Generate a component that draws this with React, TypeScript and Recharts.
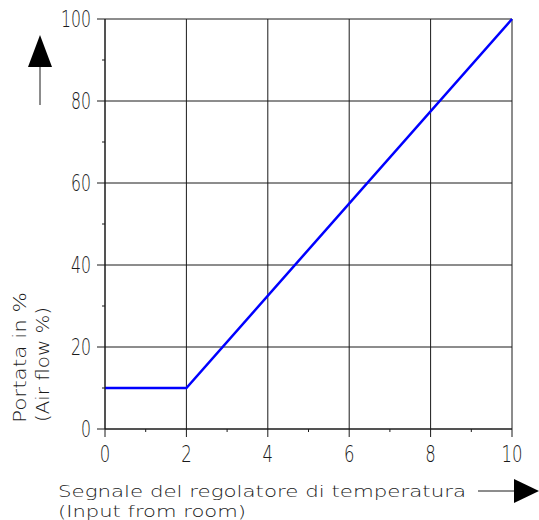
import React from 'react';
import { LineChart, Line, XAxis, YAxis, CartesianGrid } from 'recharts';

// input signal (0-10) vs air flow in %
const signal = [0, 2, 10];
const airflow = [10, 10, 100];

const xTicks = [0, 1, 2, 3, 4, 5, 6, 7, 8, 9, 10];
const xMajor = [0, 2, 4, 6, 8, 10];
const yTicks = [0, 10, 20, 30, 40, 50, 60, 70, 80, 90, 100];
const yMajor = [0, 20, 40, 60, 80, 100];

const xTitle = ['Segnale del regolatore di temperatura', '(Input from room)'];
const yTitle = ['Portata in %', '(Air flow %)'];

const data = signal.map((s, i) => ({ signal: s, airflow: airflow[i] }));

const FONT = '"DejaVu Sans", sans-serif';
const INK = '#1a1a1a';

const XTick = ({ x, y, payload }: any) => {
  const major = xMajor.includes(payload.value);
  const label = String(payload.value);
  return (
    <g>
      <line x1={x} x2={x} y1={y} y2={y + (major ? 8 : 3)} stroke={INK} strokeWidth={1} />
      {major && (
        <text x={x} y={y + 33} textAnchor="middle" fontFamily={FONT} fontWeight={200} fontSize={23} fill={INK}
          textLength={label.length * 10.5} lengthAdjust="spacingAndGlyphs">{label}</text>
      )}
    </g>
  );
};

const YTick = ({ x, y, payload }: any) => {
  const major = yMajor.includes(payload.value);
  const label = String(payload.value);
  return (
    <g>
      <line x1={x} x2={x - (major ? 8 : 3)} y1={y} y2={y} stroke={INK} strokeWidth={1} />
      {major && (
        <text x={x - 14} y={y + 8} textAnchor="end" fontFamily={FONT} fontWeight={200} fontSize={23} fill={INK}
          textLength={label.length * 10} lengthAdjust="spacingAndGlyphs">{label}</text>
      )}
    </g>
  );
};

export default function App() {
  return (
    <div style={{ position: 'absolute', left: 0, top: 0, width: 539, height: 520, background: '#fff' }}>
      <LineChart width={539} height={520} data={data} margin={{ top: 19, right: 27, left: 45, bottom: 51 }}>
        <CartesianGrid stroke={INK} strokeWidth={1} horizontalValues={yMajor} verticalValues={xMajor} />
        <XAxis dataKey="signal" type="number" domain={[0, 10]} ticks={xTicks} interval={0} height={40}
          axisLine={{ stroke: INK }} tickLine={false} tickSize={0} tickMargin={0} tick={<XTick />} />
        <YAxis type="number" domain={[0, 100]} ticks={yTicks} interval={0} width={60}
          axisLine={{ stroke: INK }} tickLine={false} tickSize={0} tickMargin={0} tick={<YTick />} />
        <Line dataKey="airflow" type="linear" stroke="#0000ff" strokeWidth={2.5} dot={false} isAnimationActive={false} />
      </LineChart>
      <svg width={539} height={520} style={{ position: 'absolute', left: 0, top: 0, pointerEvents: 'none' }}>
        {/* up arrow */}
        <line x1={40} y1={66} x2={40} y2={105} stroke={INK} strokeWidth={1} />
        <polygon points="40,35 28,67 52,67" fill="#000" />
        {/* right arrow */}
        <line x1={478} y1={491} x2={515} y2={491} stroke={INK} strokeWidth={1} />
        <polygon points="539,491 514,479 514,503" fill="#000" />
        <text x={58} y={497} fontFamily={FONT} fontWeight={200} fontSize={16} fill={INK}
          textLength={408} lengthAdjust="spacingAndGlyphs">{xTitle[0]}</text>
        <text x={58} y={517} fontFamily={FONT} fontWeight={200} fontSize={16} fill={INK}
          textLength={188} lengthAdjust="spacingAndGlyphs">{xTitle[1]}</text>
        <text transform="translate(26,423) rotate(-90)" fontFamily={FONT} fontWeight={200} fontSize={18} fill={INK}
          textLength={131} lengthAdjust="spacingAndGlyphs">{yTitle[0]}</text>
        <text transform="translate(49,422) rotate(-90)" fontFamily={FONT} fontWeight={200} fontSize={18} fill={INK}
          textLength={115} lengthAdjust="spacingAndGlyphs">{yTitle[1]}</text>
      </svg>
    </div>
  );
}
